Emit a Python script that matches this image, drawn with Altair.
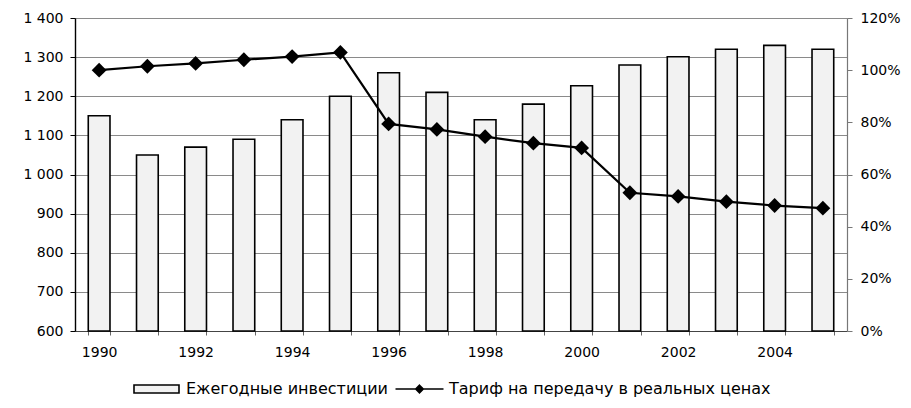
import altair as alt
import pandas as pd

years = list(range(1990, 2006))
investments = [1150, 1050, 1070, 1090, 1140, 1200, 1260, 1210, 1140, 1180, 1227, 1280, 1301, 1320, 1330, 1320]
tariff_pct = [100, 101.5, 102.6, 104, 105.2, 106.8, 79.4, 77.3, 74.5, 72, 70.2, 53, 51.6, 49.6, 48.1, 47.1]
series_names = ["Ежегодные инвестиции", "Тариф на передачу в реальных ценах"]
left_ticks = list(range(600, 1500, 100))
right_ticks = [0, 0.2, 0.4, 0.6, 0.8, 1.0, 1.2]

df = pd.DataFrame({
    "year": years,
    "inv": investments,
    "tariff": [t / 100 for t in tariff_pct],
})
df["base"] = 600

FONT = "DejaVu Sans"

x_enc = alt.X(
    "year:O",
    scale=alt.Scale(paddingInner=0.55, paddingOuter=0.275),
    axis=alt.Axis(
        title=None, labelAngle=0, tickBand="extent",
        labelExpr="datum.value % 2 == 0 ? datum.label : ''",
        labelOverlap=False, labelFontSize=14, labelFont=FONT, labelColor="#000",
        labelPadding=10, tickSize=4, tickColor="#666", domainColor="#444",
        domainWidth=1.2, grid=False,
    ),
)

bars = alt.Chart(df).mark_bar(fill="#f2f2f2", stroke="#000", strokeWidth=1.6).encode(
    x=x_enc,
    y=alt.Y(
        "inv:Q",
        scale=alt.Scale(domain=[600, 1400], nice=False, zero=False),
        axis=alt.Axis(
            title=None, values=left_ticks,
            labelExpr="replace(format(datum.value, ','), ',', ' ')",
            grid=True, gridColor="#8a8a8a", gridWidth=1,
            labelFontSize=14, labelFont=FONT, labelColor="#000", labelPadding=7,
            tickSize=5, tickColor="#000", domainColor="#000", domainWidth=1.4,
        ),
    ),
    y2="base:Q",
)

y_right = alt.Y(
    "tariff:Q",
    scale=alt.Scale(domain=[0, 1.2], nice=False, zero=True),
    axis=alt.Axis(
        title=None, orient="right", values=right_ticks, format=".0%",
        grid=False, labelFontSize=14, labelFont=FONT, labelColor="#000",
        labelPadding=8, tickSize=5, tickColor="#777", domainColor="#777",
        domainWidth=1.2,
    ),
)

line = alt.Chart(df).mark_line(color="#000", strokeWidth=2.2).encode(x="year:O", y=y_right)
points = alt.Chart(df).mark_point(shape="diamond", filled=True, color="#000", size=220, opacity=1).encode(
    x="year:O", y=alt.Y("tariff:Q")
)

rect_path = "M-1,-0.27H2V0.27H-1Z"
line_path = "M-1.1,0H2.1M0.5,-0.25L0.75,0L0.5,0.25L0.25,0Z"

legend_def = alt.Legend(
    title=None, orient="none", direction="horizontal", legendX=58, legendY=355,
    symbolSize=900, symbolStrokeWidth=1.6, symbolOpacity=1,
    labelFontSize=16, labelFont=FONT, labelColor="#000", labelLimit=500,
    labelOffset=21, columnPadding=4,
)

legend_layer = (
    alt.Chart(df)
    .transform_filter("datum.year < 0")
    .transform_calculate(series="'" + series_names[1] + "'")
    .mark_point(filled=True, strokeWidth=1.6, opacity=1)
    .encode(
        x="year:O",
        y=alt.Y("tariff:Q"),
        fill=alt.Fill(
            "series:N",
            scale=alt.Scale(domain=series_names, range=["#f2f2f2", "#000"]),
            legend=legend_def,
        ),
        stroke=alt.Stroke(
            "series:N",
            scale=alt.Scale(domain=series_names, range=["#000", "#000"]),
            legend=legend_def,
        ),
        shape=alt.Shape(
            "series:N",
            scale=alt.Scale(domain=series_names, range=[rect_path, line_path]),
            legend=legend_def,
        ),
    )
)

right_layer = alt.layer(line, points, legend_layer)

chart = (
    alt.layer(bars, right_layer)
    .resolve_scale(y="independent")
    .properties(
        width=772, height=313,
        autosize=alt.AutoSizeParams(type="none"),
        padding={"left": 67, "top": 10, "right": 56, "bottom": 74},
    )
    .configure_view(strokeWidth=0)
    .configure(background="#ffffff")
)

chart.save("out.html", embed_options={"renderer": "svg", "actions": False})
